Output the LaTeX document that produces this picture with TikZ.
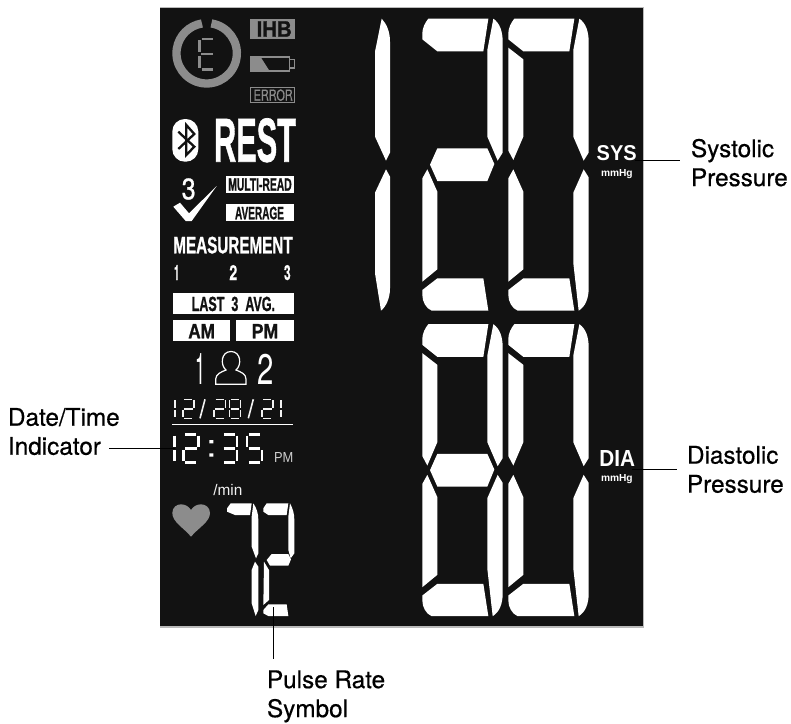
\documentclass[tikz,border=0pt]{standalone}
\usepackage{fontspec}
\setmainfont{Liberation Sans}
\newfontfamily\labfont[FakeBold=0.5]{TeX Gyre Heros}
\newfontfamily\plainh{TeX Gyre Heros}
\newfontfamily\heavy[FakeBold=1.2]{Liberation Sans Bold}
\newfontfamily\heavyh[FakeBold=0.6]{TeX Gyre Heros Bold}
\newfontfamily\semi[FakeBold=0.8]{TeX Gyre Heros}
\definecolor{lcd}{HTML}{121212}
\definecolor{lcdg}{HTML}{8C8C8C}
\definecolor{lcdw}{HTML}{F2F2F2}
\newcommand\fitbase[7]{\node[anchor=base west,inner sep=0pt,outer sep=0pt,text=#6] (#1) at (#2,#3) {\resizebox{#4pt}{#5pt}{#7}};}
\newcommand\fitw[6]{\node[anchor=base west,inner sep=0pt,outer sep=0pt,text=#5] (#1) at (#2,#3) {\resizebox{#4pt}{!}{#6}};}
% big segments, in 1/3 px units, coordinates of the second digit
\newcommand\sgA{\fill[white] (235,56) -- (415,56) -- (400,154) -- (262,154) -- (217,118) -- (217,100) .. controls (217,84) and (225,68) .. (235,56) -- cycle;}
\newcommand\sgB{\fill[white] (430,56) .. controls (450,70) and (458,95) .. (458,125) -- (458,458) -- (443,482) -- (412,410) -- (412,150) -- cycle;}
\newcommand\sgC{\fill[white] (443,508) -- (458,532) -- (458,865) .. controls (458,895) and (448,920) .. (428,932) -- (412,790) -- (412,578) -- cycle;}
\newcommand\sgD{\fill[white] (217,870) -- (262,835) -- (400,835) -- (415,932) -- (245,932) .. controls (228,925) and (217,905) .. (217,885) -- cycle;}
\newcommand\sgE{\fill[white] (232,508) -- (262,575) -- (262,808) -- (217,845) -- (217,535) -- cycle;}
\newcommand\sgF{\fill[white] (217,143) -- (262,178) -- (262,410) -- (232,480) -- (217,452) -- cycle;}
\newcommand\sgG{\fill[white] (262,445) -- (412,445) -- (433,492) -- (412,543) -- (262,543) -- (240,494) -- cycle;}
% thin seven-segment parts
\newcommand\ta{\draw (.14,0) -- (.86,0);}
\newcommand\tb{\draw (1,.05) -- (1,.44);}
\newcommand\tc{\draw (1,.56) -- (1,.95);}
\newcommand\td{\draw (.14,1) -- (.86,1);}
\newcommand\te{\draw (0,.56) -- (0,.95);}
\newcommand\tf{\draw (0,.05) -- (0,.44);}
\newcommand\tg{\draw (.12,.5) -- (.88,.5);}
\newcommand\thindigit[6]{\begin{scope}[shift={(#1,#2)},x=#3pt,y=-#4pt,#5]\foreach \s in {#6}{\csname t\s\endcsname}\end{scope}}
\begin{document}
\begin{tikzpicture}[x=1pt,y=-1pt,
  lab/.style={font=\labfont\fontsize{24.3}{29}\selectfont,align=left,inner sep=0pt,outer sep=0pt,text=black},
  leader/.style={draw=black,line width=0.9pt},
  wbox/.style={fill=white,draw=none},
  dateseg/.style={draw=lcdw,line width=1.6pt},
  timeseg/.style={draw=white,line width=2.4pt}]
\useasboundingbox (0,0) rectangle (791,723);
\fill[white] (0,0) rectangle (791,723);
% panel
\fill[lcdg!60] (160,7.4) rectangle (643.8,628);
\fill[lcd] (160,8) rectangle (643,626.3);
% big digits
\begin{scope}[shift={(350,0)},x=.33333pt,y=-.33333pt]
 \fill[white] (95,56) .. controls (110,72) and (120,95) .. (120,125) -- (120,458) -- (108,482) -- (75,410) -- (75,155) -- cycle;
 \fill[white] (108,508) -- (120,530) -- (120,865) .. controls (120,895) and (108,920) .. (93,932) -- (75,820) -- (75,578) -- cycle;
 \sgA\sgB\sgG\sgE\sgD
\end{scope}
\begin{scope}[shift={(436,0)},x=.33333pt,y=-.33333pt]
 \sgA\sgB\sgC\sgD\sgE\sgF
\end{scope}
\begin{scope}[shift={(350,305.5)},x=.33333pt,y=-.33333pt]
 \sgA\sgB\sgC\sgD\sgE\sgF\sgG
\end{scope}
\begin{scope}[shift={(436,305.5)},x=.33333pt,y=-.33333pt]
 \sgA\sgB\sgC\sgD\sgE\sgF
\end{scope}
% SYS DIA
\fitbase{sys}{596.7}{160}{40}{15}{white}{\bfseries SYS}
\fitw{sysu}{601}{176.7}{31.7}{white}{\bfseries mmHg}
\fitbase{dia}{599.3}{466}{35.7}{16}{white}{\bfseries DIA}
\fitw{diau}{601}{481.7}{31.7}{white}{\bfseries mmHg}
% ring and E
\draw[draw=lcdg,line width=8.3pt] (211.4,23.47) arc[start angle=81,end angle=-261,radius=30.2pt];
\thindigit{199.3}{38.8}{16}{30.5}{draw=lcdg,line width=2.4pt}{a,f,e,g,d}
% IHB
\fill[lcdg] (250.3,19.3) rectangle (295.3,39);
\fitbase{ihb}{256.7}{36.7}{35}{15.4}{lcd}{\heavy IHB}
% battery
\draw[draw=lcdg,line width=1.6pt] (251,56.8) rectangle (289.5,71);
\draw[draw=lcdg,line width=1.2pt] (289.5,59.6) rectangle (294.6,68);
\fill[lcdg] (250.3,56) -- (260,56) -- (270,71.7) -- (250.3,71.7) -- cycle;
% error
\draw[draw=lcdg,line width=1pt] (250.8,87.2) rectangle (294.8,102.2);
\fitbase{err}{253.7}{100.7}{39}{11.4}{lcdg}{\semi ERROR}
% bluetooth
\fill[white,rounded corners=12.5pt] (172.3,119) rectangle (198.3,161.7);
\draw[draw=lcd,line width=2.3pt] (178.3,131.7) -- (194.3,146.7) -- (186.3,155) -- (186.3,125) -- (194.3,134) -- (178.3,149);
\fitbase{rest}{214}{161.7}{82}{43.4}{white}{\heavy REST}
% check
\fitbase{three}{181.7}{199.3}{14}{21}{white}{\semi 3}
\fill[white] (173.3,206.7) -- (180,202.7) -- (189,213.3) -- (216.7,186) -- (191.7,221) -- (185.7,221) -- cycle;
\fill[wbox] (225.7,176) rectangle (293.7,192.7);
\fitbase{mr}{228.3}{190.7}{63.4}{12.4}{lcd}{\heavy MULTI-READ}
\fill[wbox] (225.7,204.3) rectangle (293.7,221.3);
\fitbase{avg}{235}{219.3}{49}{12.6}{lcd}{\heavy AVERAGE}
% measurement
\fitbase{meas}{173.3}{253.3}{119.4}{16.6}{white}{\heavy MEASUREMENT}
\fitbase{m1}{174}{280}{5.3}{15}{white}{\heavyh 1}
\fitbase{m2}{229.3}{280}{8}{15}{white}{\heavyh 2}
\fitbase{m3}{284}{280}{6.7}{15}{white}{\heavyh 3}
\fill[wbox] (173.3,293.3) rectangle (293.7,314.3);
\fitbase{last}{191.7}{311}{83.3}{14.3}{lcd}{\heavy LAST\ \ 3\ \ AVG.}
\fill[wbox] (173.3,320.3) rectangle (230.3,341);
\fitbase{am}{188.3}{338.3}{26.7}{14.3}{lcd}{\heavy AM}
\fill[wbox] (236.3,320.3) rectangle (293.7,341);
\fitbase{pm}{251.7}{338.3}{26.6}{14.3}{lcd}{\heavy PM}
% users
\fitbase{u1}{195}{384.3}{10}{31}{white}{\plainh 1}
\draw[draw=white,line width=1.2pt] (215.7,384.3) -- (215.7,379) .. controls (216,374) and (221,372) .. (226,370) .. controls (220,365) and (221,351.5) .. (231,351.5) .. controls (241,351.5) and (242,365) .. (236,370) .. controls (241,372) and (246,374) .. (246,379) -- (246,384.3) -- cycle;
\fitbase{u2}{257.7}{384.3}{16.3}{30.3}{white}{\plainh 2}
% date
\thindigit{174.7}{399.3}{.01}{19}{dateseg}{b,c}
\thindigit{182.7}{399.3}{11.3}{19}{dateseg}{a,b,g,e,d}
\draw[dateseg] (205,399.3) -- (200,418.3);
\thindigit{214}{399.3}{11.3}{19}{dateseg}{a,b,g,e,d}
\thindigit{229.3}{399.3}{11.3}{19}{dateseg}{a,b,c,d,e,f,g}
\draw[dateseg] (253.3,399.3) -- (248.3,418.3);
\thindigit{261.7}{399.3}{11.3}{19}{dateseg}{a,b,g,e,d}
\thindigit{280.7}{399.3}{.01}{19}{dateseg}{b,c}
\draw[draw=white,line width=0.9pt] (172.3,424) -- (292.7,424);
% time
\thindigit{174.3}{434.3}{.01}{28.3}{timeseg}{b,c}
\thindigit{183.3}{434.3}{15}{28.3}{timeseg}{a,b,g,e,d}
\fill[white] (209.3,440) rectangle (213.3,443.3) (209.3,453.3) rectangle (213.3,456.7);
\thindigit{221.7}{434.3}{15}{28.3}{timeseg}{a,b,g,c,d}
\thindigit{246.7}{434.3}{15}{28.3}{timeseg}{a,f,g,c,d}
\fitbase{tpm}{274}{462.3}{19.3}{10}{lcdw!85!black}{PM}
% pulse
\fitw{perm}{213.3}{495}{29}{lcdw}{/min}
\fill[lcdg] (191,536.7) .. controls (184,528) and (172.3,522) .. (172.3,513) .. controls (172.3,507) and (177,504.3) .. (181,504.3) .. controls (185,504.3) and (189,506.5) .. (191,510) .. controls (193,506.5) and (197,504.3) .. (201,504.3) .. controls (205,504.3) and (210,507) .. (210,513) .. controls (210,522) and (198,528) .. (191,536.7) -- cycle;
\begin{scope}[shift={(160,460)},x=.33333pt,y=-.33333pt]
 \fill[white] (212,130) -- (275,130) -- (270,165) -- (225,165) -- (201,155) -- (201,145) -- cycle;
 \fill[white] (280,130) .. controls (290,145) and (295,160) .. (295,180) -- (295,280) -- (288,295) -- (275,260) -- (275,170) -- cycle;
 \fill[white] (285,305) -- (295,320) -- (295,450) -- (287,468) -- (275,430) -- (275,330) -- cycle;
 \fill[white] (320,130) -- (385,130) -- (380,165) -- (325,165) -- (310,155) -- (310,145) -- cycle;
 \fill[white] (390,130) .. controls (398,145) and (403,160) .. (403,180) -- (403,280) -- (392,295) -- (385,270) -- (385,170) -- cycle;
 \fill[white] (335,282) -- (385,282) -- (393,298) -- (385,317) -- (330,317) -- (320,300) -- cycle;
 \fill[white] (312,305) -- (327,330) -- (327,420) -- (310,435) -- cycle;
 \fill[white] (310,450) -- (325,433) -- (380,433) -- (385,468) -- (325,468) -- (310,460) -- cycle;
\end{scope}
% labels and leaders
\node[lab,anchor=north west] (ldate) at (8,408) {Date/Time\\Indicator};
\node[lab,anchor=north west] (lsys) at (691,138.9) {Systolic\\Pressure};
\node[lab,anchor=north west] (ldia) at (687,445.9) {Diastolic\\Pressure};
\node[lab,anchor=north west] (lpulse) at (267,670.4) {Pulse Rate\\Symbol};
\coordinate (a1) at (109,448.3); \coordinate (a2) at (175,448.3);
\coordinate (b1) at (635,160); \coordinate (b2) at (680,160);
\coordinate (c1) at (632,469.3); \coordinate (c2) at (677,469.3);
\coordinate (d1) at (273.5,607); \coordinate (d2) at (273.5,659);
\draw[leader] (a1) -- (a2);
\draw[leader] (b1) -- (b2);
\draw[leader] (c1) -- (c2);
\draw[leader] (d1) -- (d2);
\end{tikzpicture}
\end{document}
